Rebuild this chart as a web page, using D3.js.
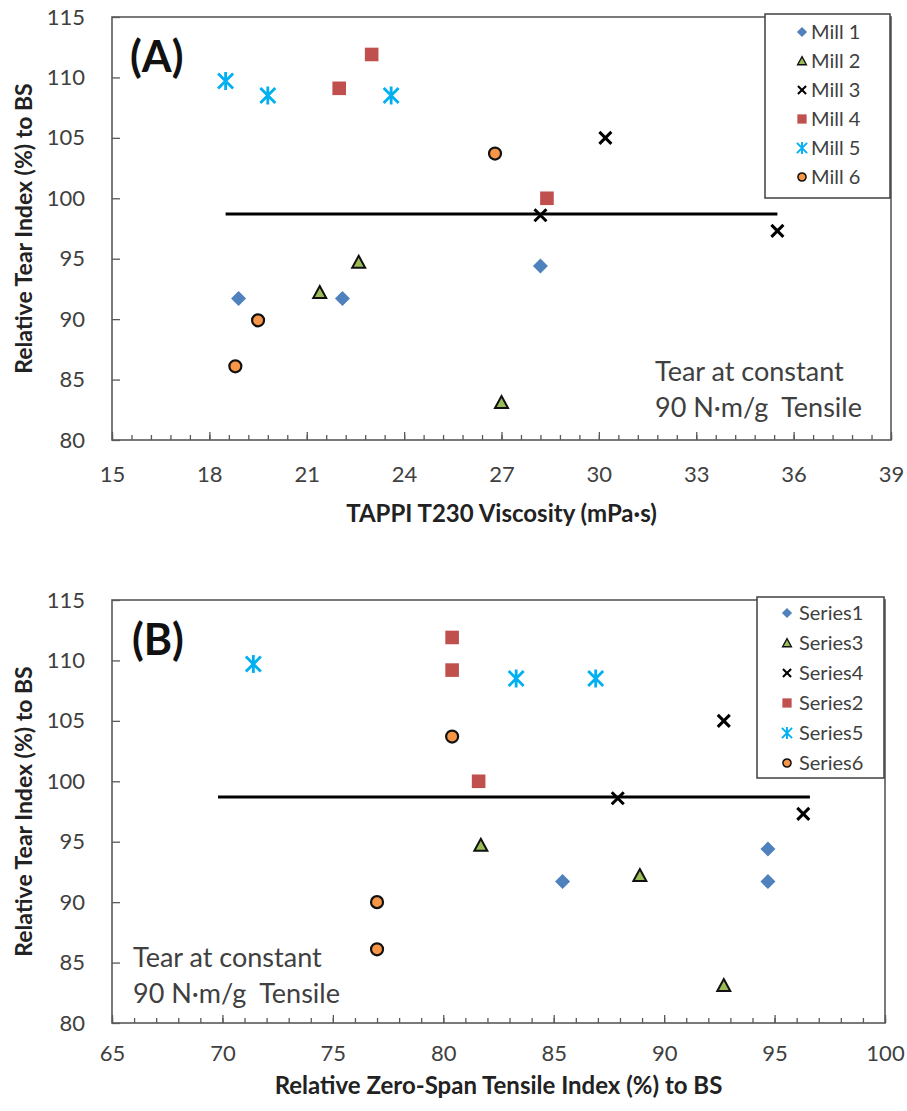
<!DOCTYPE html>
<html><head><meta charset="utf-8">
<script src="https://cdn.jsdelivr.net/npm/d3@7"></script>
<style>
body{margin:0;background:#fff}
svg{display:block}
text{font-family:Lato,"Open Sans",sans-serif}
</style>
</head><body>
<svg id="c" width="907" height="1111"></svg>
<script>
// ---------- data ----------
const millNames   = ["Mill 1","Mill 2","Mill 3","Mill 4","Mill 5","Mill 6"];
const seriesNames = ["Series1","Series3","Series4","Series2","Series5","Series6"];
const yTicks  = [80,85,90,95,100,105,110,115];
const xTicksA = [15,18,21,24,27,30,33,36,39];
const xTicksB = [65,70,75,80,85,90,95,100];

// Panel A: TAPPI T230 viscosity vs relative tear index
const a_mill1 = [[18.9,91.7],[22.1,91.7],[28.2,94.4]];
const a_mill2 = [[21.4,92.2],[22.6,94.7],[27.0,83.1]];
const a_mill3 = [[28.2,98.6],[30.2,105.0],[35.5,97.3]];
const a_mill4 = [[22.0,109.1],[23.0,111.9],[28.4,100.0]];
const a_mill5 = [[18.5,109.7],[19.8,108.5],[23.6,108.5]];
const a_mill6 = [[26.8,103.7],[19.5,89.9],[18.8,86.1]];
const a_refLine = [[18.5,98.7],[35.5,98.7]];

// Panel B: relative zero-span tensile vs relative tear index
const b_series1 = [[85.4,91.7],[94.7,94.4],[94.7,91.7]];
const b_series3 = [[81.7,94.7],[88.9,92.2],[92.7,83.1]];
const b_series4 = [[87.9,98.6],[92.7,105.0],[96.3,97.3]];
const b_series2 = [[80.4,111.9],[80.4,109.2],[81.6,100.0]];
const b_series5 = [[71.4,109.7],[83.3,108.5],[86.9,108.5]];
const b_series6 = [[80.4,103.7],[77.0,90.0],[77.0,86.1]];
const b_refLine = [[69.8,98.7],[96.6,98.7]];

// ---------- marker styles ----------
const markerKinds = ["diamond","triangle","x","square","star","circle"];
const AX = "#595959", TXT = "#404040";

function drawMarker(g, kind, x, y, s) {
  const m = g.append("g").attr("transform", `translate(${x},${y})`);
  if (kind === "diamond") {
    m.append("path").attr("d", `M0,${-7.5*s}L${7.5*s},0L0,${7.5*s}L${-7.5*s},0Z`).attr("fill", "#4F81BD");
  } else if (kind === "triangle") {
    m.append("path").attr("d", `M0,${-6.5*s}L${6.5*s},${5.5*s}L${-6.5*s},${5.5*s}Z`)
      .attr("fill", "#9BBB59").attr("stroke", "#111").attr("stroke-width", 2*s).attr("stroke-linejoin","miter");
  } else if (kind === "x") {
    const r = 6*s;
    m.append("path").attr("d", `M${-r},${-r}L${r},${r}M${-r},${r}L${r},${-r}`)
      .attr("stroke", "#000").attr("stroke-width", 3*s).attr("fill","none");
  } else if (kind === "square") {
    const r = 6.8*s;
    m.append("rect").attr("x", -r).attr("y", -r).attr("width", 2*r).attr("height", 2*r).attr("fill", "#C0504D");
  } else if (kind === "star") {
    const r = 7.5*s, v = 9*s;
    m.append("path").attr("d", `M${-r},${-r}L${r},${r}M${-r},${r}L${r},${-r}M0,${-v}L0,${v}`)
      .attr("stroke", "#00B0F0").attr("stroke-width", 2.8*s).attr("fill","none");
  } else if (kind === "circle") {
    m.append("circle").attr("r", 6*s).attr("fill", "#F79646").attr("stroke", "#111").attr("stroke-width", 2.2*s);
  }
}

const svg = d3.select("#c");

function panel(cfg) {
  const x = d3.scaleLinear().domain(cfg.xDomain).range([cfg.left, cfg.right]);
  const y = d3.scaleLinear().domain([80,115]).range([cfg.bottom, cfg.top]);
  const g = svg.append("g");

  // minor x ticks
  const minor = d3.range(cfg.xDomain[0], cfg.xDomain[1] + 1e-9, cfg.minorStep);
  g.append("g").attr("transform", `translate(0,${cfg.bottom})`)
    .call(d3.axisBottom(x).tickValues(minor).tickSize(-5).tickFormat(""))
    .call(a => { a.select(".domain").remove(); a.selectAll("line").attr("stroke", AX).attr("stroke-width", 1.3); });

  // major x ticks
  g.append("g").attr("transform", `translate(0,${cfg.bottom})`)
    .call(d3.axisBottom(x).tickValues(cfg.xTicks).tickSize(-8).tickPadding(cfg.xPad).tickFormat(d3.format("d")))
    .call(a => {
      a.select(".domain").remove();
      a.selectAll("line").attr("stroke", AX).attr("stroke-width", 1.3);
      a.selectAll("text").attr("fill", TXT).style("font-size", "22px").style("font-family", "Lato");
    });

  // y ticks
  g.append("g").attr("transform", `translate(${cfg.left},0)`)
    .call(d3.axisLeft(y).tickValues(yTicks).tickSize(-8).tickPadding(27).tickFormat(d3.format("d")))
    .call(a => {
      a.select(".domain").remove();
      a.selectAll("line").attr("stroke", AX).attr("stroke-width", 1.3);
      a.selectAll("text").attr("fill", TXT).style("font-size", "22px").style("font-family", "Lato");
    });

  // frame
  g.append("rect").attr("x", cfg.left).attr("y", cfg.top)
    .attr("width", cfg.right - cfg.left).attr("height", cfg.bottom - cfg.top)
    .attr("fill", "none").attr("stroke", AX).attr("stroke-width", 1.6);

  // reference line
  g.append("path").datum(cfg.refLine)
    .attr("d", d3.line().x(d => x(d[0])).y(d => y(d[1])))
    .attr("stroke", "#000").attr("stroke-width", 3).attr("fill", "none");

  // series
  cfg.series.forEach((s, i) => {
    s.forEach(d => drawMarker(g, markerKinds[i], x(d[0]), y(d[1]), 1));
  });

  // legend
  const L = cfg.legend;
  g.append("rect").attr("x", L.x0).attr("y", L.y0).attr("width", L.x1 - L.x0).attr("height", L.y1 - L.y0)
    .attr("fill", "#fff").attr("stroke", "#404040").attr("stroke-width", 1.5);
  cfg.names.forEach((n, i) => {
    const yy = L.row0 + i * L.step;
    drawMarker(g, markerKinds[i], L.mx, yy, 0.68);
    g.append("text").attr("x", L.tx).attr("y", yy).attr("dy", "0.35em")
      .attr("fill", TXT).style("font-size", "20px").text(n);
  });

  // panel label
  g.append("text").attr("x", cfg.tag[0]).attr("y", cfg.tag[1])
    .style("font-size", "43px").style("font-weight", "bold").attr("fill", "#111").text(cfg.tagText);

  // annotation
  cfg.note.forEach((t, i) => {
    g.append("text").attr("x", cfg.noteXY[0]).attr("y", cfg.noteXY[1] + i * 36)
      .attr("fill", TXT).style("font-size", "27px").style("white-space", "pre").text(t);
  });

  // axis titles
  g.append("text").attr("x", (cfg.left + cfg.right) / 2).attr("y", cfg.xTitleY)
    .attr("text-anchor", "middle").attr("fill", "#222").style("font-size", "24px").style("font-weight", "bold")
    .text(cfg.xTitle);
  g.append("text").attr("transform", `translate(24,${(cfg.top + cfg.bottom) / 2}) rotate(-90)`)
    .attr("text-anchor", "middle").attr("dy", "0.35em").attr("fill", "#222")
    .style("font-size", "23px").style("font-weight", "bold")
    .text("Relative Tear Index (%) to BS");
}

panel({
  xDomain: [15,39], xTicks: xTicksA, minorStep: 0.6, xPad: 26,
  left: 112, right: 891, top: 17, bottom: 440,
  refLine: a_refLine,
  series: [a_mill1,a_mill2,a_mill3,a_mill4,a_mill5,a_mill6],
  names: millNames,
  legend: {x0: 765, x1: 890, y0: 14, y1: 198, row0: 32, step: 29, mx: 802, tx: 811},
  tag: [130, 72], tagText: "(A)",
  note: ["Tear at constant", "90 N\u00B7m/g  Tensile"], noteXY: [655, 381],
  xTitle: "TAPPI T230 Viscosity (mPa\u00B7s)", xTitleY: 522
});

panel({
  xDomain: [65,100], xTicks: xTicksB, minorStep: 1, xPad: 22,
  left: 112, right: 885, top: 600, bottom: 1023,
  refLine: b_refLine,
  series: [b_series1,b_series3,b_series4,b_series2,b_series5,b_series6],
  names: seriesNames,
  legend: {x0: 757, x1: 884, y0: 597, y1: 778, row0: 613, step: 30, mx: 787, tx: 799},
  tag: [132, 655], tagText: "(B)",
  note: ["Tear at constant", "90 N\u00B7m/g  Tensile"], noteXY: [133, 967],
  xTitle: "Relative Zero-Span Tensile Index (%) to BS", xTitleY: 1094
});
</script>
</body></html>
